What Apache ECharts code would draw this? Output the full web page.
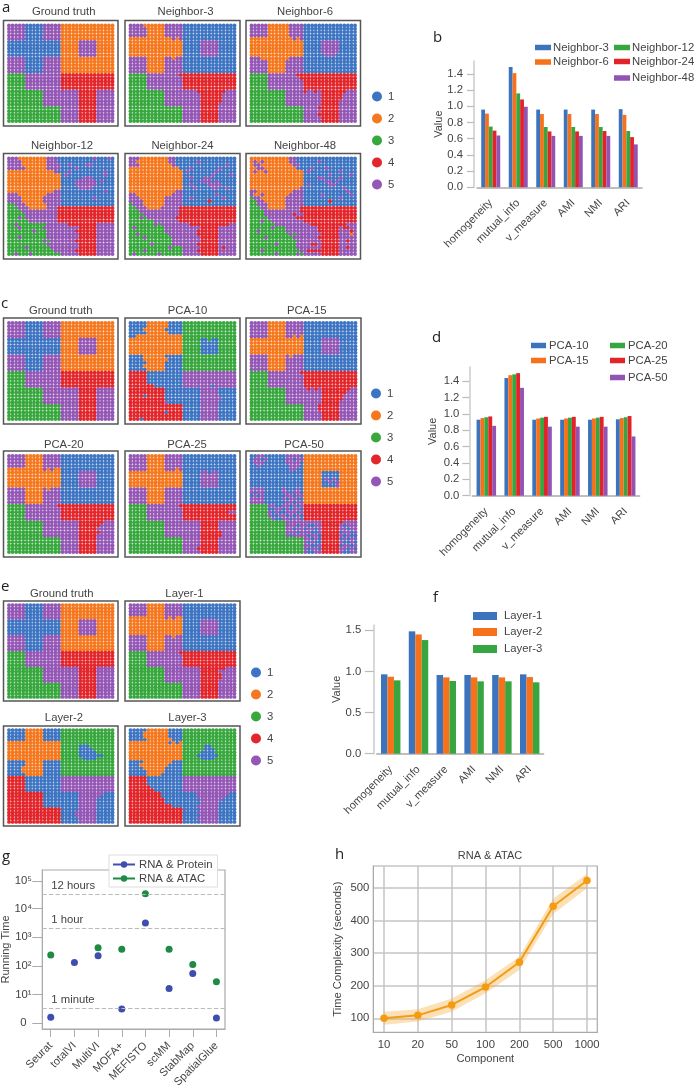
<!DOCTYPE html>
<html><head><meta charset="utf-8">
<style>html,body{margin:0;padding:0;background:#fff}#c{width:696px;height:1086px;filter:blur(0.35px)}</style>
<script src="https://cdn.jsdelivr.net/npm/echarts@6/dist/echarts.min.js"></script>
</head><body><div id="c"></div>
<script>
const clusterNames=['1','2','3','4','5'];
const clusterColors=['#3E75C3','#F5781E','#38A83E','#E2262B','#9457B5'];
const barColors=['#3B74BC','#F6711A','#37A640','#E2242A','#9154B2'];
const metrics=['homogeneity','mutual_info','v_measure','AMI','NMI','ARI'];

const groundTruth=[
"55555 11111 55555 22222 22222 22222","55555 11111 55555 22222 22222 22222","55555 11111 55555 22222 22222 22222","55555 11111 55555 22222 22222 22222","55555 11111 55555 22222 22222 22222",
"11111 11111 11111 22222 55555 22222","11111 11111 11111 22222 55555 22222","11111 11111 11111 22222 55555 22222","11111 11111 11111 22222 55555 22222","11111 11111 11111 22222 55555 22222",
"55555 11111 55555 22222 22222 22222","55555 11111 55555 22222 22222 22222","55555 11111 55555 22222 22222 22222","55555 11111 55555 22222 22222 22222","55555 11111 55555 22222 22222 22222",
"33333 55555 55555 44444 44444 44444","33333 55555 55555 44444 44444 44444","33333 55555 55555 44444 44444 44444","33333 55555 55555 44444 44444 44444","33333 55555 55555 44444 44444 44444",
"33333 33333 55555 55555 44444 55555","33333 33333 55555 55555 44444 55555","33333 33333 55555 55555 44444 55555","33333 33333 55555 55555 44444 55555","33333 33333 55555 55555 44444 55555",
"33333 33333 33333 55555 44444 55555","33333 33333 33333 55555 44444 55555","33333 33333 33333 55555 44444 55555","33333 33333 33333 55555 44444 55555","33333 33333 33333 55555 44444 55555"];

const neighbor3=[
"55552 22222 55555 11111 11111 11111","55555 22222 55555 11111 11111 11111","55555 22222 55555 11111 11111 11111","55555 22222 55555 11111 11111 11111","22222 22222 22525 11111 11111 11111",
"22222 22222 22222 11111 55555 11111","22222 22222 22222 11111 55555 11111","22222 22222 22222 11111 55555 11111","22222 22222 22222 11111 55555 11111","22222 22222 22222 11111 55555 11111",
"55555 22222 55255 11111 11111 11111","55555 22222 55555 11111 11111 11111","55555 22222 55555 11111 11111 11111","55555 22222 55555 11111 11111 11111","55555 22222 55555 11111 11111 11111",
"33333 55555 55554 44444 44444 44444","33333 55555 55555 44444 44444 44444","33333 55555 55555 44444 44444 44444","33333 55555 55555 44444 44444 44444","33333 55555 55555 44444 44444 44444",
"33333 33333 55555 55554 44444 44555","33333 33333 55555 55555 44444 45555","33333 33333 55555 55555 44444 45555","33333 33333 55555 55555 44444 45555","33333 33333 55555 55555 44444 55555",
"33333 33333 33333 55555 44444 55555","33333 33333 33333 55555 44444 55555","33333 33333 33333 55555 44444 55555","33333 33333 33333 55555 44444 55555","33333 33333 33333 55555 44444 55555"];

const neighbor6=[
"55555 22222 25555 11111 11111 11111","55555 22222 25555 11111 11111 11111","55555 22222 25555 11111 11111 11111","55555 22222 25555 11111 11111 11111","22222 22222 22525 11111 11111 11111",
"22222 22222 22222 11111 55555 11111","22222 22222 22222 11111 55555 11111","22222 22222 22222 11111 55555 11111","22222 22222 22222 11111 55555 11111","22222 22222 22222 11111 15551 11111",
"55522 22222 25555 11111 11111 11111","55555 22222 55555 11111 11111 11111","55555 22222 55555 11111 11111 11111","55555 22222 55555 11111 11111 11111","55555 22222 55555 11111 11111 11111",
"33333 55555 55544 44444 44444 44444","33333 55555 55554 44444 44444 44444","33333 55555 55555 44444 44444 44444","33333 55555 55555 44444 44444 44444","33333 55555 55555 44444 44444 44444",
"33333 33333 55555 45545 44444 44555","33333 33333 55555 55555 44444 45555","33333 33333 55555 55555 44444 45555","33333 33333 55555 55555 44444 55555","33333 33333 55555 55555 44444 55555",
"33333 33333 33333 55554 44444 55555","33333 33333 33333 55555 44444 55555","33333 33333 33333 55554 44444 55555","33333 33333 33333 55555 44444 55555","33333 33333 33333 55555 44444 55555"];

const neighbor12=[
"555222222225551 111111111511151","555522222225551 111111111111111","555522222225555 115111155111111","555552222225555 111151111111111","222222222222251 115111111111511",
"222222222222222 151111111111511","222222222222222 111111555111111","222222222222222 111155555515111","222222222222222 111155555511111","222222222222222 111115555111111",
"222222222222255 111111111111511","555222222225555 111111111111111","555522222255555 111111111511111","555522222255555 111111111111111","335552222225555 111111111111111",
"333555222225554 444444444444444","333355555555554 444444444444444","333335555555554 444444444444444","333535555555554 444444444444444","333333555555554 444444444444444",
"335333333335555 554444444455555","333533333355555 555554444455555","333333353335555 555544444455555","333333333335555 555554444455555","333533333335555 555554444455555",
"333333333353555 555544444455555","333333333335555 555554444455555","333335333333555 555554444455555","333333333333355 555544444455555","335333533333333 555554444455555"];

const neighbor24=[
"555222222225511 111111111111111","552222222225511 111151111111111","555222222222511 111111111111511","222222222222221 115111111151111","222222222222222 151111111511111",
"222222222222222 111111115111151","222222222222222 115111551111111","222222222222222 111115551511111","222222222222222 115111155551111","222222222222222 111511115511511",
"222222222222255 111111111111111","552222222222555 111111111511111","555222222255555 115111111115111","555522222255555 111111141111111","355522222255555 111111111111111",
"335552222555554 444444444444444","333555555555554 444444444444444","333355555555554 444444444444444","333535555555544 444444444444444","333333355555554 444444444444444",
"333333353555555 554444444444455","353333333355555 555554444455555","333333333355555 555544444455555","335333333335555 555544444455555","333353333333555 555554444455555",
"333333333333555 555554444455555","333333533333555 555544444455555","333333333335333 555554444454555","333353333333333 555544444455555","353333335333333 555554444455555"];

const neighbor48=[
"222222222225511 111111111111111","252522222225511 111151111111111","255222222222551 111111111111111","225522222222211 115111511111111","252252222222222 151111111151111",
"222222222222222 111111151111151","222222222222222 111155111151111","222222222222222 111111551511111","222222222222222 151111155111111","222222222222225 111111111115111",
"552222222222555 111111111111511","522522222225555 111115111111151","355222222255555 111111111151111","335522222255555 111111141111111","335552222255555 111111111111111",
"333552222255554 444444444444444","333355555555554 444444444444444","333355555555455 444444444444444","333335555555544 444444444444444","333533555555555 444444444444444",
"333333355555555 554444444444555","333333533355555 555544444454455","335333333355555 555544444455545","333333333335355 555554444455525","333353333333555 555544444455555",
"333333333333355 555554444455455","333333353333355 554454444455555","333333333333355 555554444455455","333533333333335 544444444455555","333333353333353 555554444455555"];

const pca10=[
"111112222221111 333333333333333","111112222221111 333333333333333","111122222211111 333333333333333","111112222221111 333333333333333","112222222222222 333333333333333",
"222222222222222 333331131133333","222222222222222 333331111133333","222222222222222 333331111133333","222222222222222 333331111133333","222222222222222 333331111133333",
"111122222211111 333333333333333","111122222221111 333333333333333","111112222211111 333333333333333","111122222211111 333333333333333","111112222211111 333333333333333",
"444441111111111 555555555555555","444441111111111 555555555555555","444441111111111 555555555555555","444441111111111 555555555555555","444444411111111 555555551555555",
"444444444411111 111115555511111","444444444411111 111115555511111","444414444411111 111115555511111","444444444411111 111115555551111","444444444451111 111115555511111",
"444444444444444 111115555511111","444444444444444 111115555511111","444444444414444 111115555511111","444444444444444 111115555511111","444144444444444 111115555511111"];

const pca15=[
"55555 22222 55555 11111 11111 11111","55555 22222 55555 11111 11111 11111","55555 22222 55555 11111 11111 11111","55555 22222 55555 11111 11111 11111","55555 22222 55252 11111 11111 11111",
"22222 22222 22222 11111 55555 11111","22222 22222 22222 11111 55555 11111","22222 22222 22222 11111 55555 11111","22222 22222 22222 11111 55555 11111","22222 22222 22222 11111 55555 11111",
"55555 22222 52555 11111 11111 11111","55555 22222 55555 11111 11111 11111","55555 22222 55555 11111 11111 11111","55555 22222 55555 11111 11111 11111","55555 22222 55555 11111 11111 11111",
"33333 55555 55554 44444 44444 44444","33333 55555 55555 44444 44444 44444","33333 55555 55555 44444 44444 44444","33333 55555 55555 44444 44444 44444","33333 55555 55555 44444 44444 44444",
"33333 33333 55555 54545 44444 44455","33333 33333 55555 55555 44444 44555","33333 33333 55555 55555 44444 45555","33333 33333 55555 55555 44444 45555","33333 33333 55555 55555 44444 55555",
"33333 33333 33333 55554 44444 55555","33333 33333 33333 55554 44444 55555","33333 33333 33333 55555 44444 55555","33333 33333 33333 55555 44444 55555","33333 33333 33333 55555 44444 55555"];

const pca20=[
"55555 22222 55555 11111 11111 11111","55555 22222 55555 11111 11111 11111","55555 22222 55555 11111 11111 11111","55555 22222 55555 11111 11111 11111","22222 22222 52522 11111 11111 11111",
"22222 22222 22222 11111 55555 11111","22222 22222 22222 11111 55555 11111","22222 22222 22222 11111 55555 11111","22222 22222 22222 11111 55555 11111","22222 22222 22222 11111 55555 11111",
"55555 22222 52555 11111 11111 11111","55555 22222 55555 11111 11111 11111","55555 22222 55555 11111 11111 11111","55555 22222 55555 11111 11111 11111","55555 22222 55555 11111 11111 11111",
"33333 55555 55554 44444 44444 44444","33333 55555 55555 44444 44444 44444","33333 55555 55555 44444 44444 44444","33333 55555 55555 44444 44444 44444","33333 55555 55555 44444 44444 44444",
"33333 33333 55555 55555 44444 44555","33333 33333 55555 55555 44444 45555","33333 33333 55555 55555 44444 55555","33333 33333 55555 55555 44444 45555","33333 33333 55555 55555 44444 55555",
"33333 33333 33333 55555 44444 55555","33333 33333 33333 55555 44444 55555","33333 33333 33333 55555 44444 55555","33333 33333 33333 55555 44444 55555","33333 33333 33333 55555 44444 55555"];

const pca25=[
"55555 22222 55555 11111 11111 11111","55555 22222 55555 11111 11111 11111","55555 22222 55555 11111 11111 11111","55555 22222 55555 11111 11111 11111","55555 22222 55525 11111 11111 11111",
"22222 22222 22222 11111 55155 11111","22222 22222 22222 11111 55555 11111","22222 22222 22222 11111 55555 11111","22222 22222 22222 11111 55555 11111","22222 22222 22222 11111 55555 11111",
"55555 22222 55555 11111 11111 11111","55555 22222 55555 11111 11111 11111","55555 22222 55555 11111 11111 11111","55555 22222 55555 11111 11111 11111","55555 22222 55555 11111 11111 11111",
"33333 55555 55554 44444 44444 44444","33333 55555 55555 44444 44444 44444","33333 55555 55555 44444 44444 44455","33333 55555 55555 44444 44444 44444","33333 55555 55555 44444 44444 44444",
"33333 33333 55555 55555 44444 55555","33333 33333 55555 55555 44444 55555","33333 33333 55555 55555 44444 55555","33333 33333 55555 55555 44444 45555","33333 33333 55555 55555 44444 45555",
"33333 33333 33333 55555 44444 55555","33333 33333 33333 55555 44444 55555","33333 33333 33333 55555 44444 55555","33333 33333 33333 55554 44444 55555","33333 33333 33333 55555 44444 55555"];

const pca50=[
"115511111155551 222222222222222","155151111155155 222222222222222","155511111155551 222222222222222","115111111115551 222222222222222","111111111115511 222222222222222",
"111111111111111 222221111122222","111111111111111 222221111122222","111111111111111 222221515122222","111111111111111 222221151522222","111111111111111 222221111522222",
"555511111511151 222222222222222","515511111551551 222222222222222","151511111155155 222222222222222","555511111515511 222222222222222","555511111155155 222222222222222",
"333335511551515 444444444444444","333331155151551 444444444444444","333335151155515 444444444444444","333335115515151 444444444444444","333333511551551 444444444444444",
"333333333355555 555554444445555","333333333355515 511554444451555","333333333355155 155154444455155","333333333355515 551154444415515","333333333351555 515514444451511",
"333333333333333 551514444415155","333333333333333 515114444451151","333333333333333 551154444415515","333333333333333 515514444455151","333333333333333 511554444451155"];

const layer1=[
"55555 22222 55555 11111 11111 11111","55555 22222 55555 11111 11111 11111","55555 22222 55555 11111 11111 11111","55555 22222 55555 11111 11111 11111","22222 22222 52522 11111 11111 11111",
"22222 22222 22222 11111 55555 11111","22222 22222 22222 11111 55555 11111","22222 22222 22222 11111 55555 11111","22222 22222 22222 11111 55555 11111","22222 22222 22222 11111 55555 11111",
"55555 22222 55255 11111 11111 11111","55555 22222 55555 11111 11111 11111","55555 22222 55555 11111 11111 11111","55555 22222 55555 11111 11111 11111","55555 22222 55555 11111 11111 11111",
"33333 55555 55554 44444 44444 44444","33333 55555 55555 44444 44444 44444","33333 55555 55555 44444 44444 44444","33333 55555 55555 44444 44444 44444","33333 55555 55555 44444 44444 44444",
"33333 33333 55555 55555 44444 44555","33333 33333 55555 55555 44444 55555","33333 33333 55555 55555 44444 45555","33333 33333 55555 55555 44444 45555","33333 33333 55555 55555 44444 55555",
"33333 33333 33333 55555 44444 55555","33333 33333 33333 55555 44444 55555","33333 33333 33333 55555 44444 55555","33333 33333 33333 55555 44444 55555","33333 33333 33333 55555 44444 55555"];

const layer2=[
"11111 22222 11111 33333 33333 33333","11111 22222 11111 33333 33333 33333","11111 22222 11111 33333 33333 33333","11111 22222 11111 33333 33333 33333","22222 22222 22222 33333 33333 33333",
"22222 22222 22222 33333 11133 33333","22222 22222 22222 33333 11113 33333","22222 22222 22222 33333 11111 33333","22222 22222 22222 33333 11111 11333","22222 22222 22222 33333 31111 33333",
"11111 22222 11111 33333 33333 33333","11111 22222 11111 33333 33333 33333","11112 22222 11111 33333 33333 33333","11112 22222 11111 33333 33333 33333","11111 22222 11111 33333 33333 33333",
"44444 11111 11111 55555 55555 55555","44444 11111 11111 55555 55555 55555","44444 11111 11111 55555 55555 55555","44444 11111 11111 55555 55555 55555","44444 11111 11111 55555 55555 55555",
"44444 44444 11111 11111 55555 55111","44444 44444 11111 11111 55555 51111","44444 44444 11111 11111 55555 11111","44444 44444 11111 11111 55555 11111","44444 44444 11111 11111 55555 11111",
"44444 44444 44444 11111 55555 11111","44444 44444 44444 11115 55555 11111","44444 44444 44444 11115 55555 11111","44444 44444 44444 11111 55555 11111","44444 44444 44444 11111 55555 11111"];

const layer3=[
"11111 22222 21111 33333 33333 33333","11112 22222 21111 33333 33333 33333","11112 22222 21111 33333 33333 33333","11111 22222 22111 33333 33333 33333","22222 22222 21212 33333 33333 33333",
"22222 22222 22222 33333 31133 33333","22222 22222 22222 33333 31113 33333","22222 22222 22222 33333 11113 33333","22222 22222 22222 33331 11111 33333","22222 22222 22222 33333 11113 33333",
"11112 22222 22111 33333 33333 33333","11122 22222 21111 33333 33333 33333","11112 22222 11111 33333 33333 33333","11111 22222 11111 33333 33333 33333","11111 22221 11111 33333 33333 33333",
"44444 11111 11111 55555 55555 55555","44444 11111 11111 55555 55555 55555","44444 11111 11111 55555 55555 55555","44444 41111 11111 55555 55555 55555","44444 44111 11111 55555 55555 55555",
"44444 44441 11111 11115 55555 55511","44444 44441 11111 11115 55555 55111","44444 44444 11111 11111 55555 51111","44444 44444 11111 11111 55555 11111","44444 44444 44111 11115 55555 11111",
"44444 44444 44444 11111 55555 11111","44444 44444 44444 11115 55555 11111","44444 44444 44444 11111 55555 11111","44444 44444 44444 11115 55555 11111","44444 44444 44444 11111 55555 11111"];

const neighborNames=['Neighbor-3','Neighbor-6','Neighbor-12','Neighbor-24','Neighbor-48'];
const neighborValues=[
[0.96,1.486,0.96,0.96,0.96,0.965],
[0.91,1.41,0.905,0.905,0.905,0.895],
[0.75,1.16,0.745,0.745,0.745,0.695],
[0.70,1.085,0.69,0.69,0.695,0.62],
[0.64,0.995,0.635,0.635,0.635,0.53]];
const pcaNames=['PCA-10','PCA-15','PCA-20','PCA-25','PCA-50'];
const pcaValues=[
[0.93,1.44,0.93,0.93,0.93,0.935],
[0.95,1.475,0.945,0.945,0.945,0.95],
[0.96,1.485,0.955,0.955,0.955,0.96],
[0.97,1.50,0.965,0.965,0.965,0.975],
[0.855,1.32,0.845,0.845,0.845,0.725]];
const layerNames=['Layer-1','Layer-2','Layer-3'];
const layerValues=[
[0.965,1.488,0.957,0.957,0.957,0.965],
[0.936,1.45,0.928,0.928,0.928,0.932],
[0.892,1.382,0.884,0.88,0.88,0.868]];

const methods=['Seurat','totalVI','MultiVI','MOFA+','MEFISTO','scMM','StabMap','SpatialGlue'];
const rnaProtein=[1.6,130,224,3.1,3160,16,54,1.5];
const rnaAtac=[240,null,425,380,33000,380,111,27.7];
const timeMarks=[['12 hours',31600],['1 hour',2000],['1 minute',3.16]];
const logTicks=[0,1,2,3,4,4.965];
const logLabels=['0','10¹','10²','10³','10⁴','10⁵'];

const components=['10','20','50','100','200','500','1000'];
const timeMean=[100,109,141,196,272,444,523];
const timeLower=[80,90,120,177,248,420,499];
const timeUpper=[120,128,161,217,289,468,543];

const FONT='"Liberation Sans",Arial,sans-serif';
const TXT='#444';
const grid=[],xAxis=[],yAxis=[],series=[],title=[],legend=[];

function addTitle(text,x,y,size,align,font,color){
  title.push({text,left:x,top:y,padding:0,textAlign:align||'center',textVerticalAlign:'middle',
    textStyle:{fontFamily:font||FONT,fontSize:size||11.3,fontWeight:'normal',color:color||TXT}});
}
function addPanel(rows,name,l,t,w,h,padX,padY,tx,ty){
  const g=grid.length;
  grid.push({left:l,top:t,width:w,height:h,show:true,borderColor:'#555',borderWidth:1.5,backgroundColor:'#fff',outerBoundsMode:'none'});
  xAxis.push({gridIndex:g,type:'value',min:-padX,max:29+padX,show:false});
  yAxis.push({gridIndex:g,type:'value',min:-padY,max:29+padY,inverse:true,show:false});
  const pts=clusterNames.map(()=>[]);
  rows.forEach((r,y)=>{[...r.replace(/\s/g,'')].forEach((c,x)=>pts[+c-1].push([x,y]));});
  clusterNames.forEach((n,i)=>series.push({name:n,type:'scatter',xAxisIndex:g,yAxisIndex:g,data:pts[i],symbol:'circle',symbolSize:3.9,
    itemStyle:{color:clusterColors[i],opacity:1},silent:true,animation:false}));
  addTitle(name,tx,ty);
}
function addClusterLegend(l,t){
  legend.push({data:clusterNames,orient:'vertical',left:l,top:t,itemWidth:10,itemHeight:10,itemGap:11,icon:'circle',padding:0,selectedMode:false,
    textStyle:{fontFamily:FONT,fontSize:11.3,color:TXT,padding:[0,0,0,1]}});
}
function addBars(names,vals,l,r,t,b,yMax,ticks,nameGap,tickLen,labelGap,catGap,legends){
  const g=grid.length;
  grid.push({left:l,top:t,width:r-l,height:b-t,outerBoundsMode:'none'});
  xAxis.push({gridIndex:g,type:'category',data:metrics,axisLine:{lineStyle:{color:'#aaa',width:1.5}},
    axisTick:{alignWithLabel:true,length:7,lineStyle:{color:'#bbb',width:1.2}},
    axisLabel:{rotate:45,interval:0,margin:14,fontFamily:FONT,fontSize:11,color:TXT}});
  yAxis.push({gridIndex:g,type:'value',min:0,max:yMax,offset:3,name:'Value',nameLocation:'middle',nameGap,nameMoveOverlap:false,
    nameTextStyle:{fontFamily:FONT,fontSize:11,color:TXT},
    axisLine:{show:true,onZero:false,lineStyle:{color:'#ccc',width:1.5}},splitLine:{show:false},
    axisTick:{show:true,length:tickLen,customValues:ticks,lineStyle:{color:'#bbb',width:1.2}},
    axisLabel:{customValues:ticks,margin:labelGap,formatter:v=>v.toFixed(1),fontFamily:FONT,fontSize:11.3,color:TXT}});
  names.forEach((n,i)=>series.push({name:n,type:'bar',xAxisIndex:g,yAxisIndex:g,data:vals[i],
    barGap:0,barCategoryGap:catGap,itemStyle:{color:barColors[i]},silent:true,animation:false}));
  legends.forEach((p,i)=>legend.push({data:[names[i]],left:p[0],top:p[1],itemWidth:p[2],itemHeight:p[3],itemGap:0,icon:'rect',padding:0,selectedMode:false,
    textStyle:{fontFamily:FONT,fontSize:11.3,color:TXT,padding:[0,0,0,p[4]]}}));
}

// a
addPanel(groundTruth,'Ground truth',3.5,20.5,114.5,105.5,1.54,1.5,63.7,12);
addPanel(neighbor3,'Neighbor-3',125,20.5,115,105.5,1.54,1.5,185.5,12);
addPanel(neighbor6,'Neighbor-6',246,20.5,114.5,105.5,1.54,1.5,305,12);
addPanel(neighbor12,'Neighbor-12',3.5,153.5,114.5,105.5,1.54,1.5,62,145.7);
addPanel(neighbor24,'Neighbor-24',125,153.5,115,105.5,1.54,1.5,182.5,145.7);
addPanel(neighbor48,'Neighbor-48',246,153.5,114.5,105.5,1.54,1.5,305,145.7);
addClusterLegend(372,91);
// c
addPanel(groundTruth,'Ground truth',3.5,318,114.5,106,1.54,1.5,60.7,311);
addPanel(pca10,'PCA-10',125,318,115,106,1.54,1.5,187.5,311);
addPanel(pca15,'PCA-15',246,318,115,106,1.54,1.5,306.7,311);
addPanel(pca20,'PCA-20',3.5,451,114.5,106,1.54,1.5,63.7,444.7);
addPanel(pca25,'PCA-25',125,451,115,106,1.54,1.5,187,444.7);
addPanel(pca50,'PCA-50',246,451,115,106,1.54,1.5,304,444.7);
addClusterLegend(371,388);
// e
addPanel(groundTruth,'Ground truth',3.5,601,114.5,100,1.54,1.3,61.7,594);
addPanel(layer1,'Layer-1',125,601,115,100,1.54,1.3,184.5,594);
addPanel(layer2,'Layer-2',3.5,726,114.5,100,1.54,1.3,64,718);
addPanel(layer3,'Layer-3',125,726,115,100,1.54,1.3,187.5,718);
addClusterLegend(251,667);
// b d f
addBars(neighborNames,neighborValues,477,642,61,187.3,1.56,[0,.2,.4,.6,.8,1,1.2,1.4],30,7,11,'31%',
  [[535,42,16,5.5,-3],[535,56.5,16,5.5,-3],[614,42,16,5.5,-3],[614,56,16,5.5,-3],[614,72.5,16,5.5,-3]]);
addBars(pcaNames,pcaValues,472.4,639.6,367,495.7,1.575,[0,.2,.4,.6,.8,1,1.2,1.4],31,7,10,'30%',
  [[531,340,15,5.5,-2],[531,355,15,5.5,-2],[610,340,15,5.5,-2],[610,355,15,5.5,-2],[610,372,15,5.5,-2]]);
addBars(layerNames,layerValues,376.8,543.6,625,753.7,1.565,[0,.5,1,1.5],31,9,12.5,'30%',
  [[473,610.5,24,8,2],[473,626.5,24,8,2],[473,643.5,24,8,2]]);

// g: the reference's axis is logarithmic with 0 at the 10^0 position
{const g=grid.length;
 grid.push({left:42.3,top:870,width:182.7,height:159,show:true,borderColor:'#aaa',borderWidth:1.2,outerBoundsMode:'none'});
 const idx=methods.map((_,i)=>i);
 xAxis.push({gridIndex:g,type:'value',min:-0.357,max:7.362,splitLine:{show:false},axisLine:{onZero:false,lineStyle:{color:'#aaa'}},
   axisTick:{customValues:idx,length:8,lineStyle:{color:'#aaa'}},
   axisLabel:{customValues:idx,rotate:45,margin:15,formatter:v=>methods[v],fontFamily:FONT,fontSize:11,color:TXT}});
 yAxis.push({gridIndex:g,type:'value',min:-0.21,max:5.35,name:'Running Time',nameLocation:'middle',nameGap:31,nameMoveOverlap:false,
   nameTextStyle:{fontFamily:FONT,fontSize:11,color:TXT},splitLine:{show:false},axisLine:{show:true,onZero:false,lineStyle:{color:'#aaa'}},
   axisTick:{show:true,customValues:logTicks,length:10,lineStyle:{color:'#aaa'}},
   axisLabel:{customValues:logTicks,margin:19,align:'center',formatter:v=>logLabels[logTicks.indexOf(v)],fontFamily:FONT,fontSize:11.3,color:TXT}});
 const mk=(name,vals,color)=>({name,type:'line',xAxisIndex:g,yAxisIndex:g,data:vals.map((v,i)=>[i,v==null?null:Math.log10(v)]),symbol:'circle',symbolSize:7,
   lineStyle:{width:0},itemStyle:{color},silent:true,animation:false});
 const s1=mk('RNA & Protein',rnaProtein,'#3F4DB0');
 const s2=mk('RNA & ATAC',rnaAtac,'#1E8A45');
 s1.markLine={silent:true,symbol:'none',animation:false,lineStyle:{type:'dashed',color:'#bbb',width:1.1},
   label:{position:'insideStartTop',distance:[9,3],fontFamily:FONT,fontSize:11.3,color:TXT,formatter:p=>p.name},
   data:timeMarks.map(m=>({name:m[0],yAxis:Math.log10(m[1])}))};
 series.push(s1,s2);
 legend.push({data:['RNA & Protein','RNA & ATAC'],orient:'vertical',left:109,top:855,width:107,itemWidth:22,itemHeight:8,itemGap:3,padding:[4,5,3,3],
   backgroundColor:'rgba(255,255,255,0.9)',borderColor:'#ddd',borderWidth:1,selectedMode:false,z:20,
   lineStyle:{width:2,color:'inherit',opacity:1},textStyle:{fontFamily:FONT,fontSize:11.3,color:TXT,padding:[0,0,0,-1]}});
}
// h
{const g=grid.length;
 grid.push({left:373.3,top:866,width:224,height:166.3,show:true,borderColor:'#aaa',borderWidth:1.2,outerBoundsMode:'none'});
 const idx=components.map((_,i)=>i);
 xAxis.push({gridIndex:g,type:'value',min:-0.316,max:6.304,name:'Component',nameLocation:'middle',nameGap:21,nameMoveOverlap:false,
   nameTextStyle:{fontFamily:FONT,fontSize:11.2,color:TXT},
   axisLine:{onZero:false,lineStyle:{color:'#aaa'}},axisTick:{show:false,customValues:idx},
   splitLine:{show:true,lineStyle:{color:'#c4c4c4',width:1.5}},
   axisLabel:{customValues:idx,margin:7,formatter:v=>components[v],fontFamily:FONT,fontSize:11.3,color:TXT}});
 const yt=[100,200,300,400,500];
 yAxis.push({gridIndex:g,type:'value',min:57,max:567.5,name:'Time Complexity (seconds)',nameLocation:'middle',nameGap:30,nameMoveOverlap:false,
   nameTextStyle:{fontFamily:FONT,fontSize:11.2,color:TXT},axisLine:{show:true,onZero:false,lineStyle:{color:'#aaa'}},axisTick:{show:false,customValues:yt},
   splitLine:{show:true,lineStyle:{color:'#c4c4c4',width:1.5}},
   axisLabel:{customValues:yt,margin:4,fontFamily:FONT,fontSize:11.3,color:TXT}});
 series.push({name:'spread',type:'custom',xAxisIndex:g,yAxisIndex:g,silent:true,animation:false,z:3,
   data:timeLower.map((v,i)=>[i,v,timeUpper[i]]),
   renderItem:(p,api)=>{
     if(p.dataIndex!==0) return null;
     const low=timeLower.map((v,i)=>api.coord([i,v]));
     const up=timeUpper.map((v,i)=>api.coord([i,v])).reverse();
     return {type:'polygon',shape:{points:low.concat(up)},style:{fill:'rgba(245,166,50,0.35)'}};
   }});
 series.push({name:'mean',type:'line',xAxisIndex:g,yAxisIndex:g,symbol:'circle',symbolSize:7.5,z:5,lineStyle:{color:'#F39C12',width:2},itemStyle:{color:'#F39C12'},
   data:timeMean.map((v,i)=>[i,v]),silent:true,animation:false});
 addTitle('RNA & ATAC',490,856,11);
}
// letters
const LET='"Open Sans",sans-serif';
[['a',2,8],['b',433,38],['c',1,304],['d',432,338],['e',1,587],['f',433,598],['g',2,857],['h',335,855]].forEach(p=>addTitle(p[0],p[1],p[2],15,'left',LET,'#222'));

const chart=echarts.init(document.getElementById('c'));
chart.setOption({animation:false,backgroundColor:'#fff',title,legend,grid,xAxis,yAxis,series,tooltip:{show:false}});
</script></body></html>
